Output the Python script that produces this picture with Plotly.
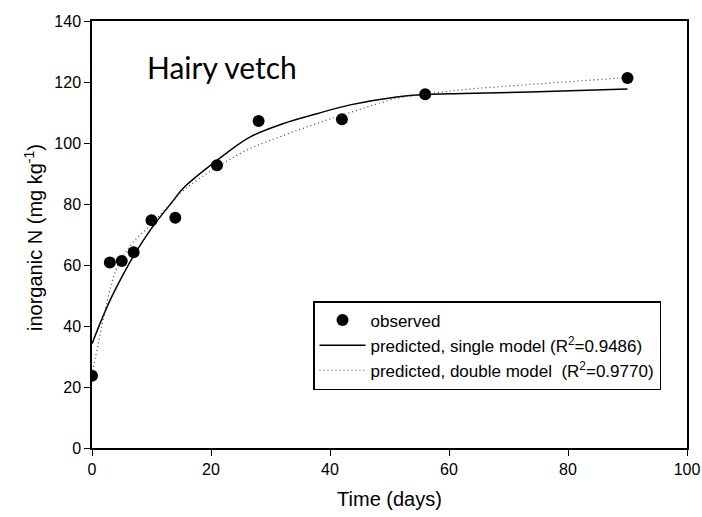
import plotly.graph_objects as go

# observed data
obs_t = [0, 3, 5, 7, 10, 14, 21, 28, 42, 56, 90]
obs_n = [23.7, 60.8, 61.3, 64.2, 74.7, 75.5, 92.7, 107.2, 107.8, 116.0, 121.3]

# single model curve
single_t = [0, 2.7, 5, 7, 10, 13.4, 15.4, 21, 26.6, 32.2, 37.8, 43.4, 51.2, 56, 62.4, 73.6, 90]
single_n = [34.2, 47.0, 56.0, 63.0, 72.0, 80.5, 85.3, 94.3, 102.0, 106.4, 109.6, 112.5, 115.1, 115.9, 116.2, 116.7, 117.7]

# double model curve
double_t = [0, 1.05, 2.2, 3.3, 4.4, 6.7, 9.5, 13.2, 15.4, 21, 26.6, 32.2, 37.8, 43.4, 51.2, 56.8, 62.4, 73.6, 88.7, 90]
double_n = [24.0, 34.2, 45.0, 54.0, 60.0, 67.0, 72.5, 80.1, 84.5, 92.1, 98.2, 102.5, 106.4, 110.0, 114.6, 116.2, 117.5, 119.2, 121.3, 121.5]

x_ticks = [0, 20, 40, 60, 80, 100]
y_ticks = [0, 20, 40, 60, 80, 100, 120, 140]

FONT = "Liberation Sans, Arial"

fig = go.Figure()
fig.add_trace(go.Scatter(x=obs_t, y=obs_n, mode="markers", name="observed",
                         marker=dict(color="black", size=12)))
fig.add_trace(go.Scatter(x=single_t, y=single_n, mode="lines", line_shape="spline",
                         name="predicted, single model (R<sup>2</sup>=0.9486)",
                         line=dict(color="black", width=1.5)))
fig.add_trace(go.Scatter(x=double_t, y=double_n, mode="lines", line_shape="spline",
                         name="predicted, double model  (R<sup>2</sup>=0.9770)",
                         line=dict(color="#444444", width=1.2, dash="1px,3px")))

axis_common = dict(showgrid=False, zeroline=False, showline=True, linecolor="black",
                   linewidth=1.5, mirror=True, ticks="outside", ticklen=6,
                   tickcolor="black", tickwidth=1, automargin=False,
                   tickfont=dict(family=FONT, size=16, color="black"))

fig.update_xaxes(range=[0, 100], tickvals=x_ticks,
                 title=dict(text="Time (days)", font=dict(family=FONT, size=20, color="black")),
                 **axis_common)
fig.update_yaxes(range=[0, 140], tickvals=y_ticks, **axis_common)

fig.add_annotation(text="inorganic N (mg kg<sup>-1</sup>)", xref="paper", yref="paper",
                   x=(33 - 92) / 595, y=(448 - 238) / 427, xanchor="center", yanchor="middle",
                   textangle=-90, showarrow=False,
                   font=dict(family=FONT, size=20, color="black"))

fig.add_annotation(text="Hairy vetch", xref="paper", yref="paper",
                   x=(145 - 92) / 595, y=(448 - 67) / 427, xanchor="left", yanchor="middle",
                   showarrow=False, font=dict(family="Lato, Open Sans", size=30, color="black"))

fig.update_layout(
    width=702, height=517,
    margin=dict(l=92, r=15, t=21, b=69),
    paper_bgcolor="white", plot_bgcolor="white",
    showlegend=True,
    legend=dict(x=(313 - 92) / 595, y=(448 - 301) / 427, xanchor="left", yanchor="top",
                bordercolor="black", borderwidth=1.5, bgcolor="white",
                font=dict(family=FONT, size=17, color="black"),
                tracegroupgap=0, itemwidth=46),
)

fig.write_html("out.html")
